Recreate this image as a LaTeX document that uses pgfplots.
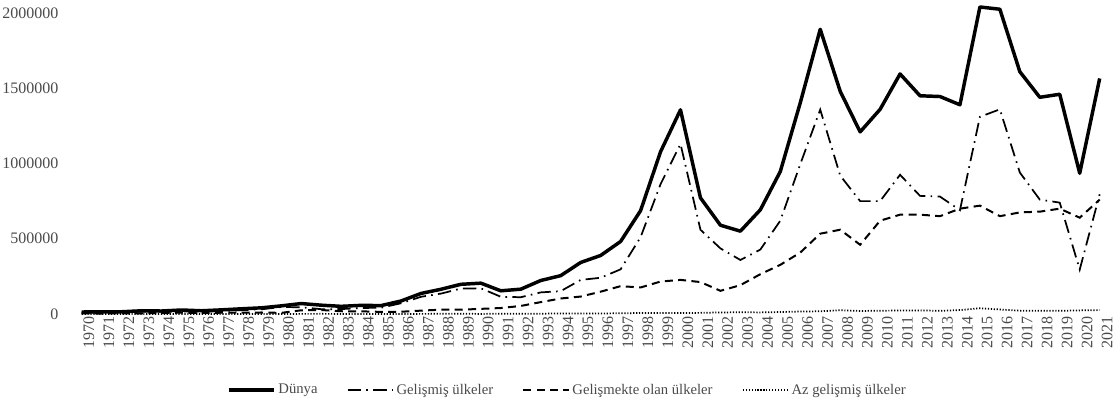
\documentclass[border=0pt]{standalone}
\usepackage{fontspec}
\setmainfont{Liberation Serif}
\usepackage{pgfplots}
\pgfplotsset{compat=1.18}
\usepackage{pgfplotstable}
\definecolor{txt}{HTML}{4A4A4A}
\pgfplotstableread{
year world developed developing ldc
1970 13300 9500 3800 300
1971 14100 10900 3200 300
1972 14900 11000 3900 300
1973 21400 16800 4600 400
1974 19900 14000 5900 500
1975 26600 17500 9100 600
1976 21500 15000 6500 400
1977 27500 19000 8500 500
1978 34600 25500 9100 600
1979 41000 31000 10000 600
1980 54100 46600 7500 600
1981 69500 44800 24700 800
1982 58600 32000 26600 900
1983 50900 32600 18300 700
1984 57500 39900 17600 600
1985 55900 41800 14100 600
1986 86500 71500 15000 600
1987 136600 114200 22400 800
1988 164300 135600 28700 1000
1989 197300 168800 28500 1400
1990 204900 170700 34200 600
1991 154100 114400 39700 1500
1992 165000 111500 53500 2300
1993 222600 143600 79000 2100
1994 254900 151900 103000 3400
1995 342400 226500 115900 3200
1996 389000 240700 148300 3800
1997 481900 296800 185100 4500
1998 686500 510300 176200 6700
1999 1078000 862400 215600 7300
2000 1356600 1130000 226600 6300
2001 772000 559800 212200 7600
2002 590000 436000 154000 10300
2003 550400 358900 191500 11400
2004 692400 428000 264400 10600
2005 946600 620000 326600 13100
2006 1403200 995000 408200 16400
2007 1891700 1358000 533700 18000
2008 1480000 920000 560000 25000
2009 1210000 750000 460000 20000
2010 1360000 750000 620000 22000
2011 1595000 925000 660000 23000
2012 1450000 785000 660000 24000
2013 1445000 780000 650000 21000
2014 1390000 690000 700000 26000
2015 2040000 1310000 720000 38000
2016 2025000 1360000 650000 30000
2017 1610000 940000 675000 22000
2018 1440000 760000 680000 22000
2019 1460000 740000 700000 21000
2020 935000 295000 640000 24000
2021 1565000 795000 760000 26000
}\data
\begin{document}
\begin{tikzpicture}
\begin{axis}[
  scale only axis,
  width=763.5pt, height=225.75pt,
  xmin=1970, xmax=2021,
  ymin=0, ymax=2000000,
  clip=false,
  axis line style={draw=none},
  major tick length=0pt,
  xtick={1970,1971,...,2021},
  ytick={0,500000,1000000,1500000,2000000},
  scaled y ticks=false,
  /pgf/number format/.cd, fixed, 1000 sep={}, assume math mode=true,
  /pgfplots/.cd,
  x tick label style={rotate=90, anchor=east, font=\fontsize{12}{13}\selectfont, text=txt, inner sep=2pt, yshift=-5.5pt},
  y tick label style={font=\fontsize{12}{13}\selectfont, text=txt, xshift=-14pt},
  xticklabel={\pgfmathprintnumber[fixed,1000 sep={}]{\tick}},
  legend columns=4,
  legend style={draw=none, at={(0.4774,-0.2525)}, anchor=center, font=\fontsize{11}{12}\selectfont, text=txt,
    /tikz/every even column/.append style={column sep=20pt}},
  legend image code/.code={\draw[#1] (0pt,0pt) -- (34pt,0pt);},
]
\addplot[black, line width=2.6pt, line join=round] table[x=year,y=world] {\data};
\addlegendentry{Dünya}
\addplot[black, line width=1.3pt, dash pattern=on 10pt off 4pt on 1.2pt off 4pt] table[x=year,y=developed] {\data};
\addlegendentry{Gelişmiş ülkeler}
\addplot[black, line width=1.5pt, dash pattern=on 6pt off 4pt] table[x=year,y=developing] {\data};
\addlegendentry{Gelişmekte olan ülkeler}
\addplot[black, line width=1.3pt, dash pattern=on 0.9pt off 1.3pt] table[x=year,y=ldc] {\data};
\addlegendentry{Az gelişmiş ülkeler}
\end{axis}
\pgfresetboundingbox
\useasboundingbox (-61.25pt,-69pt) rectangle (775.75pt,235.5pt);
\end{tikzpicture}
\end{document}
